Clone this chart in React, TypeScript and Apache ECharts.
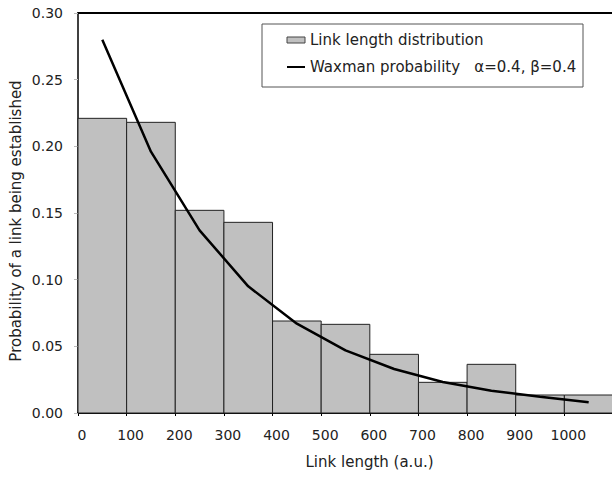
import React, { useEffect, useRef } from "react";
import * as echarts from "echarts";

const binStarts = [0, 100, 200, 300, 400, 500, 600, 700, 800, 900, 1000];
const binEnds = [100, 200, 300, 400, 500, 600, 700, 800, 900, 1000, 1100];
const binValues = [0.221, 0.218, 0.152, 0.143, 0.069, 0.0665, 0.044, 0.023, 0.0365, 0.0135, 0.0135];
const waxmanX = [50, 150, 250, 350, 450, 550, 650, 750, 850, 950, 1050];
const waxmanY = [0.28, 0.196, 0.137, 0.095, 0.067, 0.047, 0.033, 0.0233, 0.0167, 0.0122, 0.008];
const barName = "Link length distribution";
const lineName = "Waxman probability   α=0.4, β=0.4";
const xTitle = "Link length (a.u.)";
const yTitle = "Probability of a link being established";

const FONT = "'DejaVu Sans', sans-serif";

export default function App() {
  const ref = useRef<HTMLDivElement>(null);
  useEffect(() => {
    if (!ref.current) return;
    const chart = echarts.init(ref.current, null, { renderer: "svg" });
    const barData = binStarts.map((s, i) => [s, binEnds[i], binValues[i]]);
    const lineData = waxmanX.map((x, i) => [x, waxmanY[i]]);
    chart.setOption({
      animation: false,
      backgroundColor: "#fff",
      textStyle: { fontFamily: FONT },
      grid: {
        left: 78,
        top: 13,
        width: 535,
        height: 400,
        containLabel: false,
        outerBoundsMode: "none",
      },
      xAxis: [
        {
          type: "value",
          min: 0,
          max: 1100,
          interval: 100,
          name: xTitle,
          nameLocation: "middle",
          nameGap: 41,
          nameTextStyle: { fontSize: 15, color: "#222", fontFamily: FONT, padding: [0, 0, 0, 48] },
          axisLine: { show: true, lineStyle: { color: "#000", width: 2 } },
          axisTick: { show: true, length: 3, lineStyle: { color: "#000" } },
          axisLabel: {
            fontSize: 14,
            color: "#222",
            fontFamily: FONT,
            margin: 15,
            padding: [0, 0, 0, 8],
            formatter: (v: number) => (v === 1100 ? "" : String(v)),
          },
          splitLine: { show: false },
        },
        {
          type: "value",
          position: "top",
          min: 0,
          max: 1100,
          axisLine: { show: true, onZero: false, lineStyle: { color: "#000", width: 2 } },
          axisTick: { show: false },
          axisLabel: { show: false },
          splitLine: { show: false },
        },
      ],
      yAxis: {
        type: "value",
        min: 0,
        max: 0.3,
        interval: 0.05,
        axisLine: { show: true, lineStyle: { color: "#000", width: 1.5 } },
        axisTick: { show: true, length: 4, lineStyle: { color: "#bbb" } },
        axisLabel: {
          fontSize: 14,
          color: "#222",
          fontFamily: FONT,
          margin: 15,
          formatter: (v: number) => v.toFixed(2),
        },
        splitLine: { show: false },
      },
      legend: {
        orient: "vertical",
        left: 286,
        top: 32,
        padding: 0,
        itemGap: 11,
        itemWidth: 18,
        itemHeight: 6,
        textStyle: { fontSize: 15, color: "#222", fontFamily: FONT, lineHeight: 16 },
        data: [
          { name: barName, icon: "rect", itemStyle: { color: "#c0c0c0", borderColor: "#444", borderWidth: 1 } },
          { name: lineName, itemStyle: { color: "transparent", borderWidth: 0 } },
        ],
      },
      graphic: [
        {
          type: "rect",
          shape: { x: 262, y: 24, width: 321, height: 63 },
          style: { fill: "none", stroke: "#555", lineWidth: 1 },
          z: 10,
        },
        {
          type: "text",
          x: 16,
          y: 221,
          rotation: Math.PI / 2,
          style: {
            text: yTitle,
            fontSize: 15,
            fontFamily: FONT,
            fill: "#222",
            align: "center",
            verticalAlign: "middle",
          },
          z: 10,
        },
      ],
      series: [
        {
          name: barName,
          type: "custom",
          xAxisIndex: 0,
          data: barData,
          encode: { x: [0, 1], y: 2 },
          itemStyle: { color: "#c0c0c0", borderColor: "#222", borderWidth: 1 },
          renderItem: (params: any, api: any) => {
            const p0 = api.coord([api.value(0), api.value(2)]);
            const p1 = api.coord([api.value(1), 0]);
            return {
              type: "rect",
              shape: { x: p0[0], y: p0[1], width: p1[0] - p0[0], height: p1[1] - p0[1] },
              style: { fill: "#c0c0c0", stroke: "#222", lineWidth: 1 },
            };
          },
          z: 1,
        },
        {
          name: lineName,
          type: "line",
          xAxisIndex: 0,
          data: lineData,
          symbol: "none",
          smooth: false,
          lineStyle: { color: "#000", width: 2.5 },
          itemStyle: { color: "#000" },
          z: 3,
        },
      ],
    });
    return () => chart.dispose();
  }, []);
  return (
    <div
      ref={ref}
      style={{ position: "fixed", left: 0, top: 0, width: 612, height: 478, background: "#fff" }}
    />
  );
}
